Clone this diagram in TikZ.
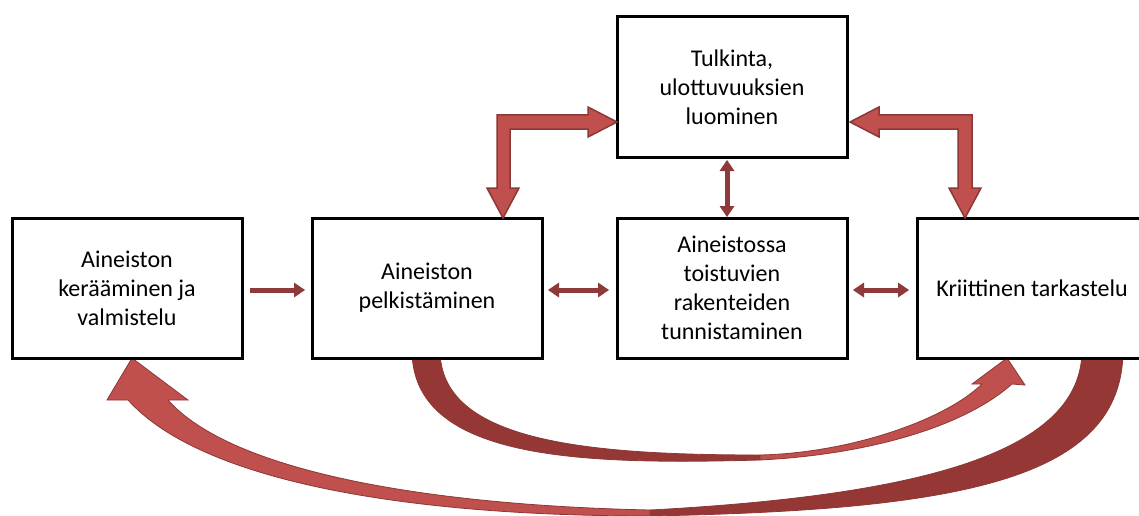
\documentclass[tikz,border=0pt]{standalone}
\usepackage{fontspec}
\setmainfont{Carlito}
\usepackage{tikz}
\usetikzlibrary{arrows.meta}

\definecolor{lohkopuna}{HTML}{C0504D}
\definecolor{tummapuna}{HTML}{953735}
\definecolor{reunapuna}{HTML}{8C3836}
\definecolor{nuolipuna}{HTML}{8E3A3A}

\tikzset{
  vaihe/.style={draw=black, line width=3pt, fill=white, minimum width=230pt,
    minimum height=140pt, inner sep=0pt, outer sep=0pt, align=center,
    font=\fontsize{24}{29}\selectfont},
  nuoli/.style={nuolipuna, line width=5pt,
    >={Triangle[length=11pt,width=15pt,line width=0pt]}},
  lohko/.style={fill=lohkopuna, draw=reunapuna, line width=1.5pt},
  kaari/.style={fill=tummapuna, draw=reunapuna, line width=0.8pt},
  kaarikarki/.style={fill=lohkopuna, draw=reunapuna, line width=0.8pt}
}

\begin{document}
\begin{tikzpicture}[x=1pt,y=-1pt]
  \useasboundingbox (0,0) rectangle (1139,516);

  %curved arrows (behind the boxes)
  \draw[kaari] (412,340) -- (412,350) .. controls (412,460) and (580,465) .. (760,460)
    -- (760,455) .. controls (580,455) and (440,440) .. (440,350) -- (440,340) -- cycle;
  \draw[kaarikarki] (760,460) .. controls (860,455) and (960,430) .. (1012,384)
    -- (1025,385) -- (1007,358) -- (972,384) -- (982,384)
    .. controls (945,420) and (850,453) .. (760,455) -- cycle;

  \draw[kaari] (1123,340) -- (1123,350) .. controls (1123,480) and (960,510) .. (650,516)
    -- (650,510) .. controls (930,495) and (1082,450) .. (1082,350) -- (1082,340) -- cycle;
  \draw[kaarikarki] (650,516) .. controls (400,516) and (200,480) .. (128,400)
    -- (107,400) -- (132,358) -- (188,400) -- (168,400)
    .. controls (230,470) and (420,505) .. (650,510) -- cycle;

  %boxes
  \node[vaihe] (kerays) at (127,288) {Aineiston\\kerääminen ja\\valmistelu};
  \node[vaihe] (pelkistys) at (427,288) {Aineiston\\pelkistäminen};
  \node[vaihe] (tunnistus) at (732,288) {Aineistossa\\toistuvien\\rakenteiden\\tunnistaminen};
  \node[vaihe] (tulkinta) at (732,87) {Tulkinta,\\ulottuvuuksien\\luominen};
  \node[vaihe] (kriittinen) at (1032,288) {Kriittinen tarkastelu};

  %block arrows
  \coordinate (Ld) at ([xshift=76pt]pelkistys.north);
  \coordinate (Lr) at ([yshift=-35pt]tulkinta.west);
  \draw[lohko] (Ld) -- ++(-16,-30) -- ++(10,0) -- ++(0,-73) -- ++(91,0) -- ++(0,-8) -- (Lr)
    -- ++(-29,15) -- ++(0,-8) -- ++(-78,0) -- ++(0,59) -- ++(9,0) -- cycle;
  \coordinate (Rd) at ([xshift=-67pt]kriittinen.north);
  \coordinate (Rl) at ([xshift=3pt,yshift=-35pt]tulkinta.east);
  \draw[lohko] (Rd) -- ++(16,-30) -- ++(-9,0) -- ++(0,-73) -- ++(-93,0) -- ++(0,-8) -- (Rl)
    -- ++(29,15) -- ++(0,-8) -- ++(79,0) -- ++(0,59) -- ++(-9,0) -- cycle;

  %arrows
  \draw[nuoli,->] ([xshift=8pt,yshift=-2pt]kerays.east) -- ([xshift=-7pt,yshift=-2pt]pelkistys.west);
  \foreach \a/\b in {pelkistys/tunnistus,tunnistus/kriittinen}
    \draw[nuoli,<->] ([xshift=6pt,yshift=-2pt]\a.east) -- ([xshift=-8pt,yshift=-2pt]\b.west);
  \draw[nuoli,<->] ([xshift=-5pt,yshift=-3pt]tulkinta.south) -- ([xshift=-5pt,yshift=1pt]tunnistus.north);
\end{tikzpicture}
\end{document}
